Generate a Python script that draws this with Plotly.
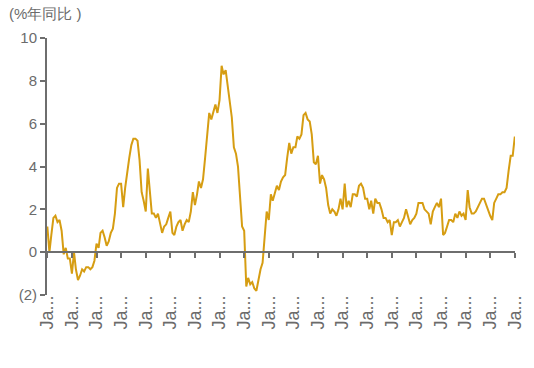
import plotly.graph_objects as go
import pandas as pd

title_text = "(%年同比 )"
start_month = "2001-01-01"
cpi_yoy = [
    # 2001
    1.2, 0.0, 0.8, 1.6, 1.7, 1.4, 1.5, 1.0, -0.1, 0.2, -0.3, -0.3,
    # 2002
    -1.0, 0.0, -0.8, -1.3, -1.1, -0.8, -0.9, -0.7, -0.7, -0.8, -0.7, -0.4,
    # 2003
    0.4, 0.2, 0.9, 1.0, 0.7, 0.3, 0.5, 0.9, 1.1, 1.8, 3.0, 3.2,
    # 2004
    3.2, 2.1, 3.0, 3.8, 4.4, 5.0, 5.3, 5.3, 5.2, 4.3, 2.8, 2.4,
    # 2005
    1.9, 3.9, 2.7, 1.8, 1.8, 1.6, 1.8, 1.3, 0.9, 1.2, 1.3, 1.6,
    # 2006
    1.9, 0.9, 0.8, 1.2, 1.4, 1.5, 1.0, 1.3, 1.5, 1.4, 1.9, 2.8,
    # 2007
    2.2, 2.7, 3.3, 3.0, 3.4, 4.4, 5.6, 6.5, 6.2, 6.5, 6.9, 6.5,
    # 2008
    7.1, 8.7, 8.3, 8.5, 7.7, 7.1, 6.3, 4.9, 4.6, 4.0, 2.4, 1.2,
    # 2009
    1.0, -1.6, -1.2, -1.5, -1.4, -1.7, -1.8, -1.2, -0.8, -0.5, 0.6, 1.9,
    # 2010
    1.5, 2.7, 2.4, 2.8, 3.1, 2.9, 3.3, 3.5, 3.6, 4.4, 5.1, 4.6,
    # 2011
    4.9, 4.9, 5.4, 5.3, 5.5, 6.4, 6.5, 6.2, 6.1, 5.5, 4.2, 4.1,
    # 2012
    4.5, 3.2, 3.6, 3.4, 3.0, 2.2, 1.8, 2.0, 1.9, 1.7, 2.0, 2.5,
    # 2013
    2.0, 3.2, 2.1, 2.4, 2.1, 2.7, 2.7, 2.6, 3.1, 3.2, 3.0, 2.5,
    # 2014
    2.5, 2.0, 2.4, 1.8, 2.5, 2.3, 2.3, 2.0, 1.6, 1.6, 1.4, 1.5,
    # 2015
    0.8, 1.4, 1.4, 1.5, 1.2, 1.4, 1.6, 2.0, 1.6, 1.3, 1.5, 1.6,
    # 2016
    1.8, 2.3, 2.3, 2.3, 2.0, 1.9, 1.8, 1.3, 1.9, 2.1, 2.3, 2.1,
    # 2017
    2.5, 0.8, 0.9, 1.2, 1.5, 1.5, 1.4, 1.8, 1.6, 1.9, 1.7, 1.8,
    # 2018
    1.5, 2.9, 2.1, 1.8, 1.8, 1.9, 2.1, 2.3, 2.5, 2.5, 2.2, 1.9,
    # 2019
    1.7, 1.5, 2.3, 2.5, 2.7, 2.7, 2.8, 2.8, 3.0, 3.8, 4.5, 4.5,
    # 2020
    5.4,
]
dates = pd.date_range(start_month, periods=len(cpi_yoy), freq="MS")
tick_dates = pd.date_range(start_month, "2020-01-01", freq="YS")
tick_labels = ["Ja..."] * len(tick_dates)
y_ticks = [-2, 0, 2, 4, 6, 8, 10]
y_labels = ["(2)", "0", "2", "4", "6", "8", "10"]

axis_col = "#6e6e6e"
text_col = "#6b6b6b"
x_range = [pd.Timestamp("2000-12-27"), pd.Timestamp("2020-01-04")]

fig = go.Figure()
fig.add_trace(go.Scatter(x=dates, y=cpi_yoy, mode="lines",
                         line=dict(color="#D69D12", width=2), showlegend=False))
# invisible trace on second x-axis for the zero baseline
fig.add_trace(go.Scatter(x=[dates[0]], y=[0], xaxis="x2", mode="lines",
                         line=dict(width=0), showlegend=False, hoverinfo="skip"))

fig.update_layout(
    width=534, height=368,
    margin=dict(l=47, r=19, t=38, b=73, autoexpand=False),
    paper_bgcolor="white", plot_bgcolor="white",
    font=dict(family="Liberation Sans, Arial, sans-serif", color=text_col, size=14),
    xaxis=dict(range=x_range, tickvals=tick_dates, ticktext=tick_labels,
               tickangle=-90, showgrid=False, zeroline=False, showline=False,
               ticks="", ticklabelstandoff=-4, automargin=False,
               tickfont=dict(size=18, color=text_col)),
    xaxis2=dict(range=x_range, overlaying="x", anchor="free", position=2/12,
                tickvals=tick_dates, showticklabels=False, showgrid=False,
                zeroline=False, showline=True, linecolor=axis_col, linewidth=2,
                ticks="outside", ticklen=5, tickwidth=2, tickcolor=axis_col,
                automargin=False),
    yaxis=dict(range=[-2, 10], tickvals=y_ticks, ticktext=y_labels,
               showgrid=False, zeroline=False, showline=True, automargin=False,
               linecolor=axis_col, linewidth=2, ticks="outside", ticklen=5,
               tickwidth=2, tickcolor=axis_col, tickfont=dict(size=15, color=text_col)),
    annotations=[dict(text=title_text, xref="paper", yref="paper", x=0, y=1,
                      xshift=-40, yshift=14, showarrow=False, xanchor="left",
                      yanchor="bottom", font=dict(size=15, color=text_col))],
)
fig.write_html("out.html", config={"displayModeBar": False},
               post_script="document.body.style.margin='0';")
